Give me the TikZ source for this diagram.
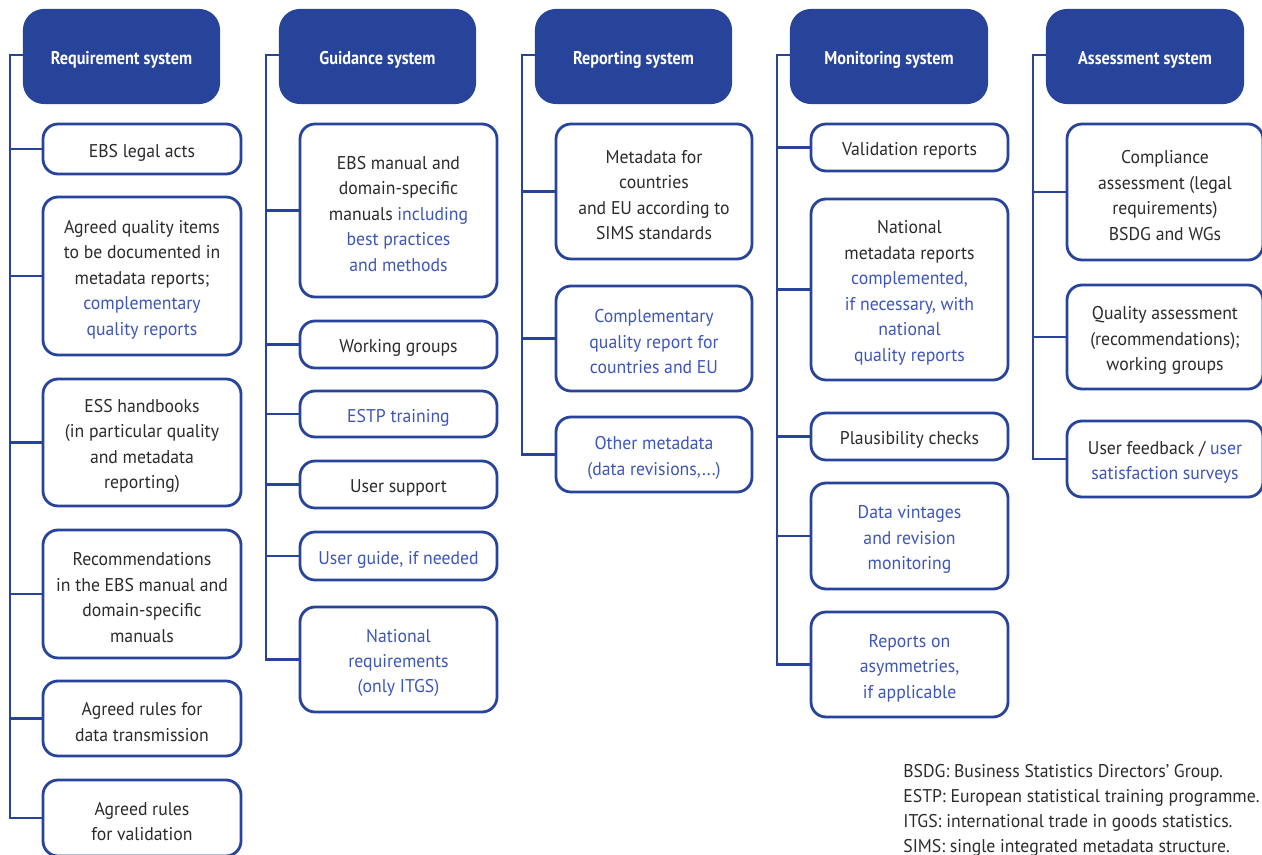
\documentclass[tikz,border=0pt]{standalone}
\usepackage{fontspec}
\setmainfont{PT Sans}[FakeStretch=0.96]
\newfontfamily\hdrfont{PT Sans}[FakeStretch=0.88]
\definecolor{dblue}{HTML}{27449A}
\definecolor{tblue}{HTML}{3D56B8}
\definecolor{tgray}{HTML}{2B2B2B}
\newcommand{\bl}[1]{\textcolor{tblue}{#1}}
\tikzset{
 hdr/.style={draw=dblue, fill=dblue, line width=1.2pt, rounded corners=0.4cm, text=white, font=\hdrfont\bfseries\fontsize{10.5}{13}\selectfont, inner sep=0pt, execute at begin node={\rule{0pt}{11pt}}},
 kid/.style={draw=dblue, line width=1.6pt, rounded corners=0.3cm, fill=white, text=tgray, align=center, font=\fontsize{10.5}{14.5}\selectfont, inner sep=0pt},
 conn/.style={draw=dblue, line width=1.2pt},
 note/.style={align=left, text=tgray, font=\fontsize{10.5}{14.2}\selectfont, inner sep=0pt},
}
\newcommand{\hb}[6]{\node[hdr, minimum width={(#4-#2)*0.02cm}, minimum height={(#5-#3)*0.02cm}] (#1) at ({(#2+#4)/2},{(#3+#5)/2}) {#6};}
\newcommand{\kb}[6]{\node[kid, minimum width={(#4-#2)*0.02cm}, minimum height={(#5-#3)*0.02cm}] (#1) at ({(#2+#4)/2},{(#3+#5)/2}) {\rule{0pt}{11.4pt}#6};}
\begin{document}
\begin{tikzpicture}[x=0.02cm,y=-0.02cm]
\useasboundingbox (0,0) rectangle (1262,855);
\clip (0,0) rectangle (1262,855);
% headers
\hb{h1}{24}{10}{219}{103}{Requirement system}
\hb{h2}{280}{10}{475}{103}{Guidance system}
\hb{h3}{536}{10}{731}{103}{Reporting system}
\hb{h4}{791}{10}{987}{103}{Monitoring system}
\hb{h5}{1047}{10}{1243}{103}{Assessment system}
% column 1
\kb{c1a}{43}{124}{241}{174}{EBS legal acts}
\kb{c1b}{43}{197}{241}{355}{Agreed quality items\\to be documented in\\metadata reports;\\\bl{complementary}\\\bl{quality reports}}
\kb{c1c}{43}{379}{241}{506}{ESS handbooks\\(in particular quality\\and metadata\\reporting)}
\kb{c1d}{43}{530}{241}{658}{Recommendations\\in the EBS manual and\\domain-specific\\manuals}
\kb{c1e}{43}{681}{241}{756}{Agreed rules for\\data transmission}
\kb{c1f}{43}{780}{241}{856}{Agreed rules\\for validation}
% column 2
\kb{c2a}{300}{124}{497}{297}{EBS manual and\\domain-specific\\manuals \bl{including}\\\bl{best practices}\\\bl{and methods}}
\kb{c2b}{300}{321}{497}{368}{Working groups}
\kb{c2c}{300}{391}{497}{437}{\bl{ESTP training}}
\kb{c2d}{300}{461}{497}{508}{User support}
\kb{c2e}{300}{532}{497}{580}{\bl{User guide, if needed}}
\kb{c2f}{300}{607}{497}{712}{\bl{National}\\\bl{requirements}\\\bl{(only ITGS)}}
% column 3
\kb{c3a}{556}{124}{752}{259}{Metadata for\\countries\\and EU according to\\SIMS standards}
\kb{c3b}{556}{286}{752}{391}{\bl{Complementary}\\\bl{quality report for}\\\bl{countries and EU}}
\kb{c3c}{556}{417}{752}{492}{\bl{Other metadata}\\\bl{(data revisions,...)}}
% column 4
\kb{c4a}{811}{124}{1008}{171}{Validation reports}
\kb{c4b}{811}{199}{1008}{380}{National\\metadata reports\\\bl{complemented,}\\\bl{if necessary, with}\\\bl{national}\\\bl{quality reports}}
\kb{c4c}{811}{413}{1008}{460}{Plausibility checks}
\kb{c4d}{811}{483}{1008}{589}{\bl{Data vintages}\\\bl{and revision}\\\bl{monitoring}}
\kb{c4e}{811}{612}{1008}{717}{\bl{Reports on}\\\bl{asymmetries,}\\\bl{if applicable}}
% column 5
\kb{c5a}{1067}{124}{1263}{260}{Compliance\\assessment (legal\\requirements)\\BSDG and WGs}
\kb{c5b}{1067}{285}{1263}{389}{Quality assessment\\(recommendations);\\working groups}
\kb{c5c}{1067}{421}{1263}{497}{User feedback / \bl{user}\\\bl{satisfaction surveys}}
% trunks
\coordinate (t1) at (10,55);
\coordinate (t2) at (266,55);
\coordinate (t3) at (522,55);
\coordinate (t4) at (777,55);
\coordinate (t5) at (1033,55);
\draw[conn] (h1.west |- t1) -- (t1) |- (c1f.west);
\foreach \c in {c1a,c1b,c1c,c1d,c1e} \draw[conn] (t1 |- \c.west) -- (\c.west);
\draw[conn] (h2.west |- t2) -- (t2) |- (c2f.west);
\foreach \c in {c2a,c2b,c2c,c2d,c2e} \draw[conn] (t2 |- \c.west) -- (\c.west);
\draw[conn] (h3.west |- t3) -- (t3) |- (c3c.west);
\foreach \c in {c3a,c3b} \draw[conn] (t3 |- \c.west) -- (\c.west);
\draw[conn] (h4.west |- t4) -- (t4) |- (c4e.west);
\foreach \c in {c4a,c4b,c4c,c4d} \draw[conn] (t4 |- \c.west) -- (\c.west);
\draw[conn] (h5.west |- t5) -- (t5) |- (c5c.west);
\foreach \c in {c5a,c5b} \draw[conn] (t5 |- \c.west) -- (\c.west);
% notes
\node[note, anchor=west] (notes) at (903,810) {BSDG: Business Statistics Directors' Group.\\ESTP: European statistical training programme.\\ITGS: international trade in goods statistics.\\SIMS: single integrated metadata structure.};
\end{tikzpicture}
\end{document}
